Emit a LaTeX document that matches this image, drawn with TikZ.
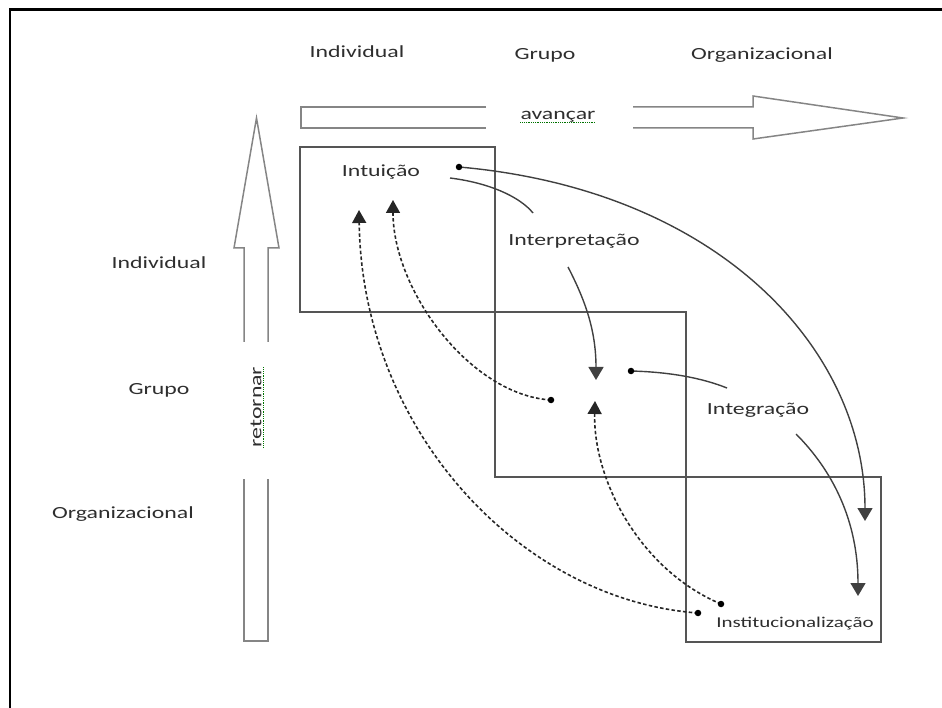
\documentclass[tikz,border=0pt]{standalone}
\usepackage{fontspec}
\setmainfont{Carlito}[FakeStretch=1.4]
\usetikzlibrary{arrows.meta}
\definecolor{txt}{HTML}{2E2E2E}
\definecolor{outl}{HTML}{858585}
\definecolor{boxc}{HTML}{555555}
\definecolor{conn}{HTML}{404040}
\tikzset{
  lbl/.style={text=txt, font=\fontsize{17}{20}\selectfont, inner sep=0pt},
  hollow/.style={draw=outl, line width=1.5pt, line join=miter},
  levelbox/.style={draw=boxc, line width=1.7pt},
  solidconn/.style={draw=conn, line width=1.4pt, -{Triangle[length=13pt,width=15pt]}},
  dashconn/.style={draw=black!85, line width=1.6pt, dash pattern=on 3.5pt off 2.3pt, -{Triangle[length=13pt,width=14pt]}},
  plainconn/.style={draw=conn, line width=1.4pt},
  dotmark/.style={circle, fill=black, inner sep=0pt, minimum size=6.5pt}
}
\begin{document}
\begin{tikzpicture}[x=1pt,y=-1pt]
\useasboundingbox (0,0) rectangle (942,708);
% outer frame (top and left)
\draw[black, line width=2.4pt] (10,708) -- (10,9.5) -- (942,9.5);

% column headings
\node[lbl] (hInd) at (357,52) {Individual};
\node[lbl] (hGru) at (545,55) {Grupo};
\node[lbl] (hOrg) at (762,55) {Organizacional};

% row headings
\node[lbl] (rInd) at (159,263) {Individual};
\node[lbl] (rGru) at (159,390) {Grupo};
\node[lbl] (rOrg) at (123,514) {Organizacional};

% avancar arrow
\draw[hollow] (486,107) -- (301,107) -- (301,128) -- (486,128);
\draw[hollow] (633,107) -- (753,107) -- (753,96) -- (903,118) -- (753,139) -- (753,128) -- (633,128);
\node[lbl] (av) at (558,117) {avançar};
\draw[green!45!black, densely dotted, line width=0.8pt] ([yshift=-2.5pt]av.base west) -- ([yshift=-2.5pt]av.base east);

% retornar arrow
\draw[hollow] (244,342) -- (244,248) -- (234,248) -- (256.5,118) -- (279,248) -- (268,248) -- (268,342);
\draw[hollow] (244,479) -- (244,641) -- (268,641) -- (268,479);
\node[lbl, rotate=90] (rt) at (256,407) {retornar};
\draw[green!45!black, densely dotted, line width=0.8pt] ([xshift=2.5pt]rt.base west) -- ([xshift=2.5pt]rt.base east);

% level boxes
\draw[levelbox] (300,147) rectangle (495,312);
\draw[levelbox] (495,312) rectangle (686,477);
\draw[levelbox] (686,477) rectangle (881,642);

% process labels
\node[lbl] (intu) at (381,172) {Intuição};
\node[lbl] (interp) at (574,241) {Interpretação};
\node[lbl] (integ) at (758,410) {Integração};
\node[lbl, font=\fontsize{15}{18}\selectfont] (inst) at (795,624) {Institucionalização};

% connector anchors
\coordinate (c1s) at (459,167);
\coordinate (c1e) at (865,521);
\coordinate (c2s) at (450,178);
\coordinate (c2m) at (533,213);
\coordinate (c2n) at (568,267);
\coordinate (c2e) at (596,380);
\coordinate (c3s) at (631,371);
\coordinate (c3m) at (727,388);
\coordinate (c3n) at (796,434);
\coordinate (c3e) at (858,596);
\coordinate (d1s) at (551,400);
\coordinate (d1e) at (393,200);
\coordinate (d2s) at (721,604);
\coordinate (d2e) at (595,401);
\coordinate (d3s) at (698,613);
\coordinate (d3e) at (359,210);

% solid connectors
\path[solidconn] (c1s) .. controls (720,190) and (865,350) .. (c1e);
\path[plainconn] (c2s) .. controls (490,183) and (520,197) .. (c2m);
\path[solidconn] (c2n) .. controls (585,300) and (596,330) .. (c2e);
\path[plainconn] (c3s) .. controls (670,372) and (702,378) .. (c3m);
\path[solidconn] (c3n) .. controls (832,470) and (858,520) .. (c3e);

% dashed connectors
\path[dashconn] (d1s) .. controls (470,395) and (393,290) .. (d1e);
\path[dashconn] (d2s) .. controls (640,570) and (593,480) .. (d2e);
\path[dashconn] (d3s) .. controls (520,600) and (362,430) .. (d3e);

% start dots
\node[dotmark] (p1) at (c1s) {};
\node[dotmark] (p3) at (c3s) {};
\node[dotmark] (q1) at (d1s) {};
\node[dotmark] (q2) at (d2s) {};
\node[dotmark] (q3) at (d3s) {};
\end{tikzpicture}
\end{document}
